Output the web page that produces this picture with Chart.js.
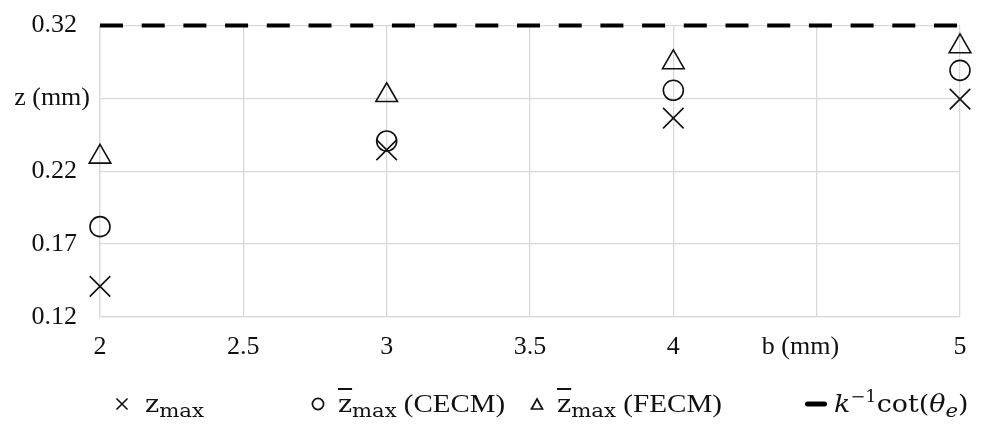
<!DOCTYPE html>
<html>
<head>
<meta charset="utf-8">
<script src="https://cdn.jsdelivr.net/npm/chart.js@4"></script>
<style>
  html, body { margin: 0; padding: 0; background: #fff; }
  #wrap { position: relative; width: 989px; height: 424px; overflow: hidden; }
  #c { position: absolute; left: 0; top: 0; }
  .leg { position: absolute; top: 388px; height: 32px; font-family: "Liberation Serif", "Times New Roman", serif; font-size: 26px; color: #111; white-space: nowrap; line-height: 32px; transform-origin: 0 50%; }
  .m { font-family: "DejaVu Serif", serif; font-size: 24px; }
  .leg sub { font-family: "DejaVu Serif", serif; font-size: 19px; vertical-align: -5px; line-height: 0; }
  .leg sup { font-family: "DejaVu Serif", serif; font-size: 16px; vertical-align: 10px; line-height: 0; }
  .ov { text-decoration: overline; text-decoration-thickness: 1.5px; }
  .ic { position: absolute; top: 397px; }
  .it { font-style: italic; }
</style>
</head>
<body>
<div id="wrap">
  <canvas id="c" width="989" height="424"></canvas>
  <svg class="ic" style="left:115px" width="14" height="14" viewBox="0 0 14 14"><path d="M1.5 1.5 L12.5 12.5 M12.5 1.5 L1.5 12.5" stroke="#111" stroke-width="1.6" fill="none"/></svg>
  <div class="leg" data-w="70" style="left:145px"><span class="m">z</span><sub>max</sub></div>
  <svg class="ic" style="left:311px" width="14" height="14" viewBox="0 0 14 14"><circle cx="7" cy="7" r="5.6" stroke="#111" stroke-width="1.7" fill="none"/></svg>
  <div class="leg" data-w="167" style="left:338px"><span class="m ov">z</span><sub>max</sub> (CECM)</div>
  <svg class="ic" style="left:530px" width="14" height="14" viewBox="0 0 14 14"><path d="M7 2 L12.5 12 L1.5 12 Z" stroke="#111" stroke-width="1.7" fill="none"/></svg>
  <div class="leg" data-w="166" style="left:557px"><span class="m ov">z</span><sub>max</sub> (FECM)</div>
  <svg class="ic" style="left:805px" width="22" height="14" viewBox="0 0 22 14"><path d="M2.5 7 L19.5 7" stroke="#000" stroke-width="5" stroke-linecap="round" fill="none"/></svg>
  <div class="leg" data-w="146" style="left:834px"><span class="m it">k</span><sup>−1</sup><span class="m">cot(</span><span class="m it">θ</span><sub class="it">e</sub><span class="m">)</span></div>
</div>
<script>
// ---- data ----
const bValues = [2, 3, 4, 5];
const zMax = [0.141, 0.2347, 0.2565, 0.2695];
const zBarCECM = [0.182, 0.2408, 0.2756, 0.2893];
const zBarFECM = [0.2299, 0.2722, 0.2947, 0.3057];
const refLineX = [2, 5];
const refLineY = [0.32, 0.32];
const xTickValues = [2, 2.5, 3, 3.5, 4, 4.5, 5];
const xTickLabels = ["2", "2.5", "3", "3.5", "4", "b (mm)     ", "5"];
const yTickValues = [0.12, 0.17, 0.22, 0.27, 0.32];
const yTickLabels = ["0.12  ", "0.17  ", "0.22  ", "z (mm)", "0.32  "];

const pts = (xs, ys) => xs.map((x, i) => ({x: x, y: ys[i]}));
const font = { family: "'Liberation Serif', 'Times New Roman', serif", size: 26 };
const labelFor = (vals, labels, v) => { const i = vals.findIndex(t => Math.abs(t - v) < 1e-6); return i >= 0 ? labels[i] : ''; };

new Chart(document.getElementById('c'), {
  type: 'scatter',
  data: {
    datasets: [
      { label: 'zmax', data: pts(bValues, zMax), pointStyle: 'crossRot', pointRadius: 14.5, borderColor: '#111', borderWidth: 1.6, backgroundColor: 'transparent', clip: false, order: 2 },
      { label: 'zbar CECM', data: pts(bValues, zBarCECM), pointStyle: 'circle', pointRadius: 10, borderColor: '#111', borderWidth: 1.6, backgroundColor: 'transparent', clip: false, order: 2 },
      { label: 'zbar FECM', data: pts(bValues, zBarFECM), pointStyle: 'triangle', pointRadius: 12.5, borderColor: '#111', borderWidth: 1.6, backgroundColor: 'transparent', clip: false, order: 2 },
      { label: 'k^-1 cot', type: 'line', data: pts(refLineX, refLineY), showLine: true, borderColor: '#000', borderWidth: 4, borderDash: [23, 18.7], borderCapStyle: 'butt', pointRadius: 0, fill: false, clip: false, order: 1 }
    ]
  },
  options: {
    responsive: false,
    animation: false,
    events: [],
    layout: { padding: { left: 0, right: 29, top: 8, bottom: 60 } },
    plugins: { legend: { display: false }, tooltip: { enabled: false } },
    scales: {
      x: {
        type: 'linear', min: 2, max: 5,
        afterFit: (s) => { s.height = 47; },
        afterBuildTicks: (s) => { s.ticks = xTickValues.map(v => ({value: v})); },
        ticks: { color: '#111', font: font, padding: 15, maxRotation: 0, autoSkip: false,
          callback: (v) => labelFor(xTickValues, xTickLabels, v) },
        grid: { color: '#d9d9d9', lineWidth: 1.3, drawTicks: false },
        border: { color: '#d9d9d9', width: 1.3 }
      },
      y: {
        type: 'linear', min: 0.12, max: 0.32,
        afterFit: (s) => { s.width = 100; },
        afterBuildTicks: (s) => { s.ticks = yTickValues.map(v => ({value: v})); },
        ticks: { color: '#111', font: font, padding: 10, autoSkip: false,
          callback: (v) => labelFor(yTickValues, yTickLabels, v) },
        grid: { color: '#d9d9d9', lineWidth: 1.3, drawTicks: false },
        border: { color: '#d9d9d9', width: 1.3 }
      }
    }
  }
});

document.querySelectorAll('.leg').forEach(el => {
  const target = parseFloat(el.dataset.w);
  const w = el.getBoundingClientRect().width;
  if (w > 0) {
    const s = Math.max(0.9, Math.min(1.12, target / w));
    el.style.transform = 'scaleX(' + s.toFixed(3) + ')';
  }
});
</script>
</body>
</html>
